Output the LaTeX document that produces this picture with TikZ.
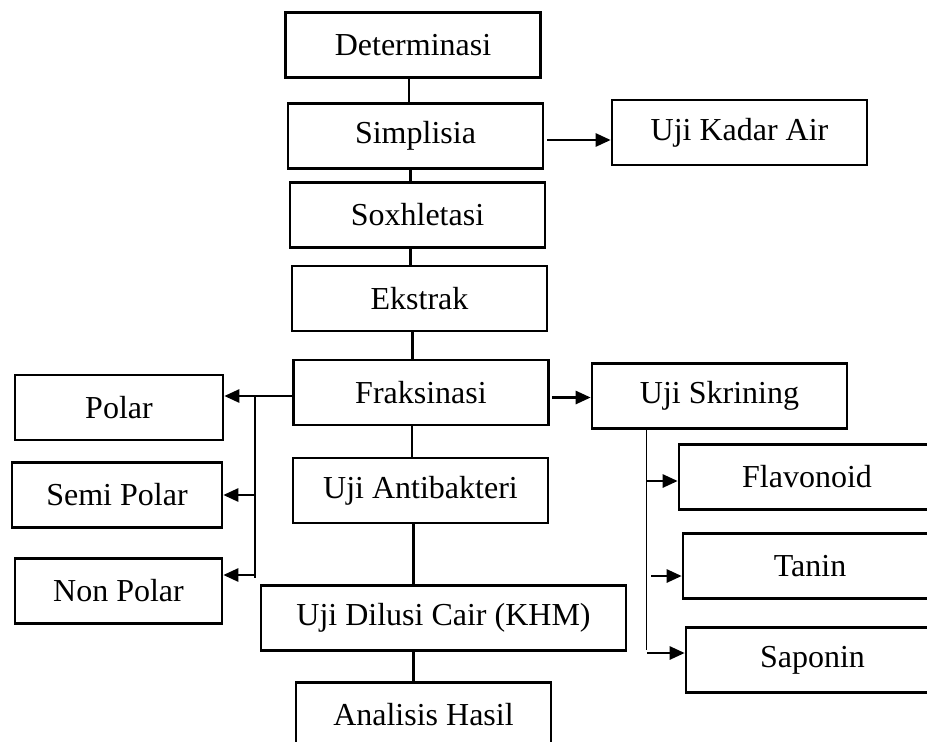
\documentclass[tikz,border=0pt]{standalone}
\usepackage{fontspec}
\setmainfont{Liberation Serif}
\usetikzlibrary{arrows.meta}
\begin{document}
\begin{tikzpicture}[x=1pt,y=-1pt,
  stepbox/.style={draw, line width=2.6pt, inner sep=0pt, minimum width=255pt, minimum height=65pt,
    font=\fontsize{32}{38}\selectfont},
  link/.style={line width=2.6pt},
  thin/.style={line width=1.3pt},
  flow/.style={line width=2.6pt, -{Triangle[length=15pt,width=13pt]}}]
\useasboundingbox (0,0) rectangle (927,742);

% main column
\node[stepbox] (det)   at (413,45)    {Determinasi};
\node[stepbox] (simp)  at (415.5,136) {Simplisia};
\node[stepbox] (sox)   at (417.5,215) {Soxhletasi};
\node[stepbox] (eks)   at (419.5,298.5) {Ekstrak};
\node[stepbox] (fraks) at (421,392.5) {Fraksinasi};
\node[stepbox] (anti)  at (420.5,490.5) {Uji Antibakteri};
\node[stepbox, minimum width=365pt] (dil) at (443.5,618) {Uji Dilusi Cair (KHM)};
\node[stepbox] (hasil) at (423.5,715) {Analisis Hasil};

% side boxes
\node[stepbox] (kadar) at (739.5,132.5) {Uji Kadar Air};
\node[stepbox, minimum width=208pt] (polar) at (119,407.5) {Polar};
\node[stepbox, minimum width=210pt] (semi)  at (117,495)   {Semi Polar};
\node[stepbox, minimum width=207pt] (non)   at (118.5,591) {Non Polar};
\node[stepbox] (skr)   at (719.5,396) {Uji Skrining};
\node[stepbox, minimum width=256pt] (flav)  at (807,477)   {Flavonoid};
\node[stepbox, minimum width=254pt] (tan)   at (810,566)   {Tanin};
\node[stepbox, minimum width=253pt] (sap)   at (812.5,660) {Saponin};

% vertical links of the main column
\draw[link] ([xshift=-4pt]det.south)  -- ([xshift=-4pt]det.south |- simp.north);
\draw[link] ([xshift=-5pt]simp.south) -- ([xshift=-5pt]simp.south |- sox.north);
\draw[link] ([xshift=-7pt]sox.south)  -- ([xshift=-7pt]sox.south |- eks.north);
\draw[link] ([xshift=-7pt]eks.south)  -- ([xshift=-7pt]eks.south |- fraks.north);
\draw[link] ([xshift=-9pt]fraks.south) -- ([xshift=-9pt]fraks.south |- anti.north);
\draw[link] ([xshift=-7pt]anti.south) -- ([xshift=-7pt]anti.south |- dil.north);
\draw[link] ([xshift=-10pt]hasil.north) -- ([xshift=-10pt]hasil.north |- dil.south);

% Simplisia to water content test
\coordinate (s1) at ([xshift=3pt,yshift=-4pt]simp.east);
\draw[flow] (s1) -- (s1 -| kadar.west);

% Fraksinasi to screening
\coordinate (f1) at ([xshift=2pt,yshift=-5pt]fraks.east);
\draw[flow] (f1) -- (f1 -| skr.west);

% Fraksinasi to the three fractions
\coordinate (fl) at ([yshift=-3.5pt]fraks.west);
\coordinate (bus) at (255,396);
\coordinate (busend) at (255,578);
\draw[flow] (fl) -- (fl -| polar.east);
\draw[thin] (bus) -- (busend);
\coordinate (b2) at (255,495);
\coordinate (b3) at (255,575);
\draw[flow] (b2) -- (b2 -| semi.east);
\draw[flow] (b3) -- (b3 -| non.east);

% screening to the three compound tests
\coordinate (r0) at (skr.south -| 646.5,0);
\coordinate (rend) at (646.5,650);
\draw[thin] (r0) -- (rend);
\coordinate (r1) at (646,481);
\coordinate (r2) at (651,576);
\coordinate (r3) at (647,653);
\draw[flow] (r1) -- (r1 -| flav.west);
\draw[flow] (r2) -- (r2 -| tan.west);
\draw[flow] (r3) -- (r3 -| sap.west);
\end{tikzpicture}
\end{document}
